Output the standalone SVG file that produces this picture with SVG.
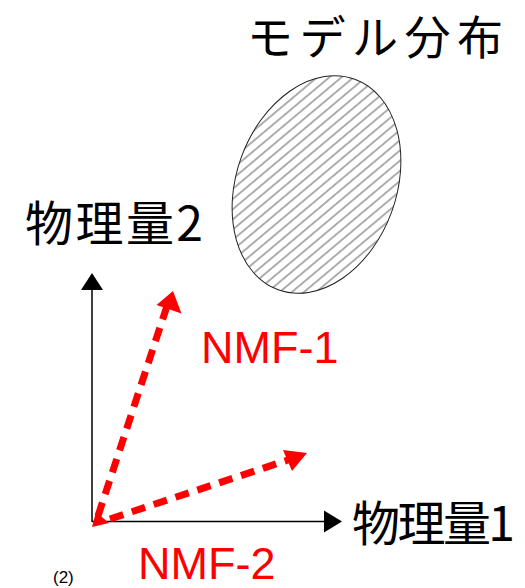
<svg xmlns="http://www.w3.org/2000/svg" width="525" height="588" viewBox="0 0 525 588">
  <style>
    .jp { font-family: "Noto Sans CJK JP", "Noto Sans CJK SC", sans-serif; fill: #000; }
    .lat { font-family: "Liberation Sans", Arial, sans-serif; }
    .red { fill: #ff0000; }
    .axis { stroke: #000; stroke-width: 1.5; fill: none; }
    .vec { stroke: #ff0000; stroke-width: 7; stroke-dasharray: 14 9; fill: none; }
  </style>
  <defs>
    <pattern id="hatch" patternUnits="userSpaceOnUse" x="0" y="0" width="7.8" height="20" patternTransform="rotate(30)">
      <line x1="3.9" y1="-1" x2="3.9" y2="21" stroke="#222" stroke-width="0.75"/>
    </pattern>
  </defs>
  <rect width="525" height="588" fill="#fff"/>

  <g id="model">
    <ellipse cx="316.5" cy="184.5" rx="80" ry="112" transform="rotate(20 316.5 184.5)" fill="url(#hatch)" stroke="#222" stroke-width="1"/>
    <text class="jp" x="247" y="53.5" font-size="46" textLength="256" lengthAdjust="spacing">モデル分布</text>
  </g>

  <g id="axes">
    <line class="axis" x1="92" y1="522" x2="92" y2="288"/>
    <polygon points="92,273 81,290 103,290" fill="#000"/>
    <line class="axis" x1="92" y1="521.5" x2="325" y2="521.5"/>
    <polygon points="342,521.5 324,510.5 324,532.5" fill="#000"/>
  </g>

  <g id="label-y">
    <text class="jp" x="25" y="241" font-size="48" textLength="178" lengthAdjust="spacing">物理量2</text>
  </g>
  <g id="label-x">
    <text class="jp" x="352" y="541" font-size="48" textLength="163" lengthAdjust="spacing">物理量1</text>
  </g>

  <g id="connectors">
    <line class="vec" x1="98" y1="516" x2="167" y2="306"/>
    <polygon class="red" points="173,291 156.5,305 181.5,313.5"/>
    <line class="vec" x1="110" y1="519" x2="288" y2="460"/>
    <polygon class="red" points="307,453 283,450 292,471"/>
    <polygon class="red" points="92,527 96,512 109,523"/>
  </g>

  <g id="nmf1">
    <text class="lat red" x="201" y="363" font-size="45">NMF-1</text>
  </g>
  <g id="nmf2">
    <text class="lat red" x="138" y="579" font-size="45">NMF-2</text>
  </g>
  <g id="caption">
    <text class="lat" x="53" y="583" font-size="17">(2)</text>
  </g>
</svg>
